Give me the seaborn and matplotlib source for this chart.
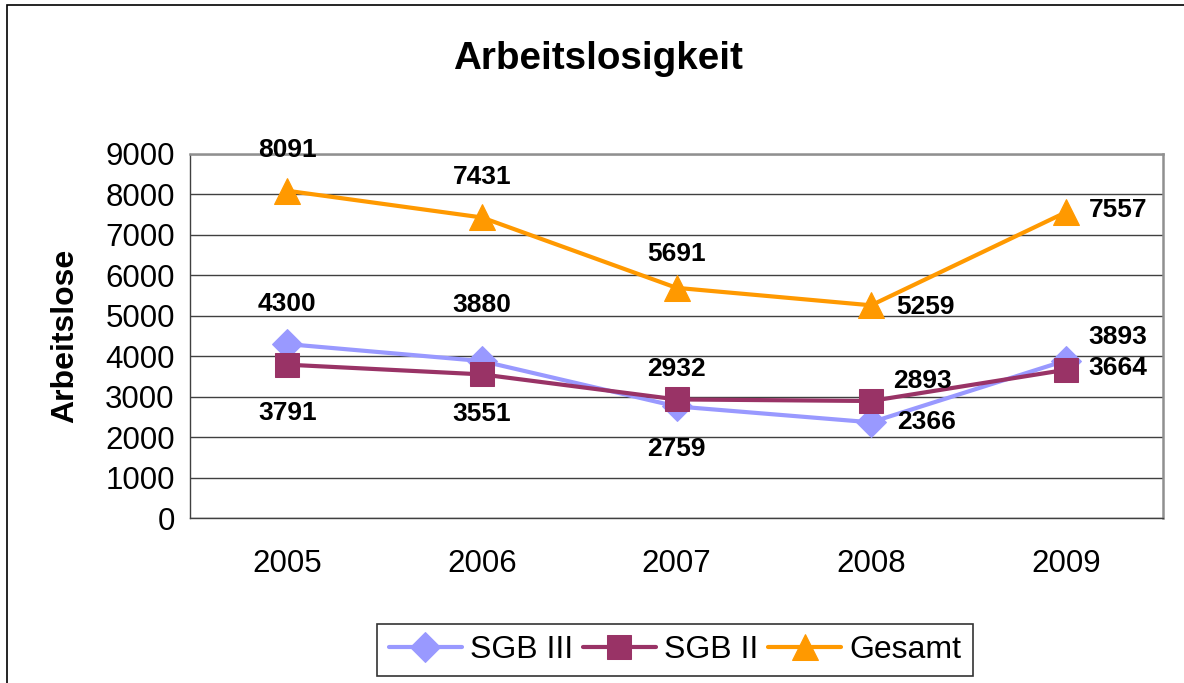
import numpy as np
import matplotlib.pyplot as plt
import seaborn as sns
import pandas as pd
from matplotlib.patches import Rectangle

years = [2005, 2006, 2007, 2008, 2009]
sgb3 = [4300, 3880, 2759, 2366, 3893]
sgb2 = [3791, 3551, 2932, 2893, 3664]
gesamt = [8091, 7431, 5691, 5259, 7557]
series_names = ["SGB III", "SGB II", "Gesamt"]

colors = {"SGB III": "#9999FF", "SGB II": "#993366", "Gesamt": "#FF9900"}
markers = {"SGB III": "D", "SGB II": "s", "Gesamt": "^"}
msizes = {"SGB III": 15, "SGB II": 17, "Gesamt": 19}
# label offsets in pixels (dx, dy) per series and point
label_offsets = {
    "SGB III": [(0, 40), (0, 56), (0, -43), (55, 0), (52, 24)],
    "SGB II": [(0, -48), (0, -40), (0, 30), (51, 20), (52, 2)],
    "Gesamt": [(0, 41), (0, 40), (0, 34), (54, -2), (52, 2)],
}

df = pd.DataFrame({"Jahr": years * 3,
                   "Wert": sgb3 + sgb2 + gesamt,
                   "Reihe": np.repeat(series_names, len(years))})

sns.set_style("white")
plt.rcParams["font.family"] = ["Liberation Sans", "DejaVu Sans"]
for key in ["text.color", "axes.labelcolor", "xtick.color", "ytick.color"]:
    plt.rcParams[key] = "black"

fig = plt.figure(figsize=(11.84, 6.83), dpi=100)
ax = fig.add_axes([190 / 1184, 1 - 518 / 683, 973 / 1184, 364 / 683])

for name in series_names:
    sub = df[df["Reihe"] == name]
    sns.lineplot(data=sub, x="Jahr", y="Wert", ax=ax, color=colors[name],
                 marker=markers[name], markersize=msizes[name],
                 markeredgecolor=colors[name], linewidth=3, label=name)
    for (x, y), (dx, dy) in zip(zip(sub["Jahr"], sub["Wert"]), label_offsets[name]):
        ax.annotate(str(y), (x, y), xytext=(dx, dy), textcoords="offset pixels",
                    ha="center", va="center", fontsize=19, fontweight="bold")

ax.set_xlim(2004.5, 2009.5)
ax.set_ylim(0, 9000)
ax.set_yticks(range(0, 9001, 1000))
ax.set_xticks(years)
ax.set_xticks(np.arange(2004.5, 2010, 1), minor=True)
ax.tick_params(axis="x", which="major", length=0, labelsize=22.5, pad=22)
ax.tick_params(axis="x", which="minor", length=7, color="#404040", direction="out")
ax.tick_params(axis="y", length=7, color="#404040", direction="out", labelsize=22.5, pad=4)
ax.yaxis.grid(True, color="#404040", linewidth=1)
ax.set_axisbelow(True)
for side in ["top", "right"]:
    ax.spines[side].set_color("#909090")
    ax.spines[side].set_linewidth(1.8)
for side in ["left", "bottom"]:
    ax.spines[side].set_color("#404040")
    ax.spines[side].set_linewidth(1)

ax.set_xlabel("")
ax.set_ylabel("Arbeitslose", fontsize=23, fontweight="bold", labelpad=18)
fig.text(598 / 1184, 1 - 69 / 683, "Arbeitslosigkeit", fontsize=27.8,
         fontweight="bold", ha="center", va="baseline")

leg = ax.legend(loc="center", bbox_to_anchor=(675 / 1184, 1 - 650 / 683),
                bbox_transform=fig.transFigure, ncol=3, fontsize=23, frameon=True,
                fancybox=False, edgecolor="black", handlelength=2.3,
                handletextpad=0.25, columnspacing=0.3, borderpad=0.35)
leg.get_frame().set_linewidth(1.2)

fig.patches.append(Rectangle((7 / 1184, -0.1), 1.2, 1 - 5 / 683 + 0.1,
                             transform=fig.transFigure, fill=False,
                             edgecolor="black", linewidth=1.2))

fig.savefig("out.png", dpi=100)
